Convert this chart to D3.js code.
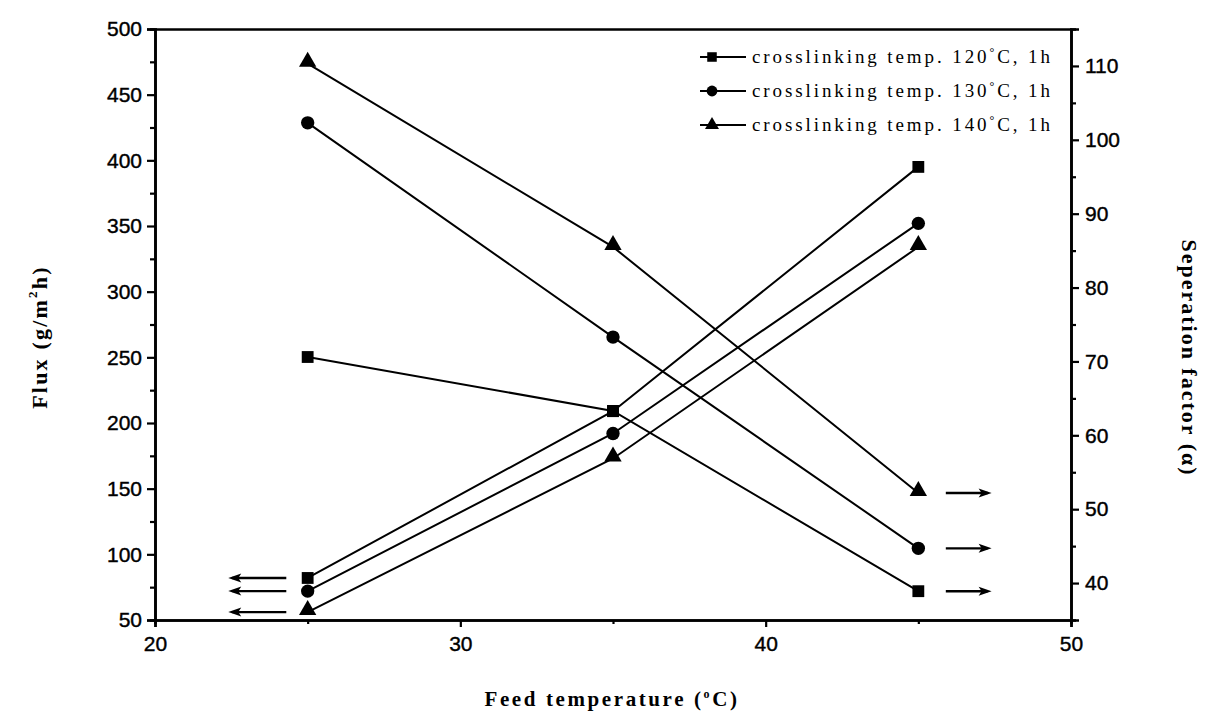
<!DOCTYPE html>
<html><head><meta charset="utf-8">
<script src="https://cdn.jsdelivr.net/npm/d3@7"></script>
<style>body{margin:0;background:#fff}</style>
</head><body>
<svg id="c" width="1209" height="720"></svg>
<script>
const feedTemps = [25, 35, 45];
const seriesNames = ["crosslinking temp. 120°C, 1h", "crosslinking temp. 130°C, 1h", "crosslinking temp. 140°C, 1h"];
const fluxValues = [[82, 209, 395], [72, 192, 352], [56, 173, 334]];
const sepValues = [[70.6, 63.3, 38.9], [102.3, 73.3, 44.7], [110.3, 85.5, 52.2]];
const xTicks = [20, 30, 40, 50];
const leftTicks = [50, 100, 150, 200, 250, 300, 350, 400, 450, 500];
const rightTicks = [40, 50, 60, 70, 80, 90, 100, 110];
const leftArrow = [24.3, 22.4];
const rightArrow = [45.9, 47.4];

const svg = d3.select("#c");
const L = 155, R = 1071, T = 29, B = 620;
const x = d3.scaleLinear().domain([20, 50]).range([L, R]);
const yL = d3.scaleLinear().domain([50, 500]).range([B, T]);
const yR = d3.scaleLinear().domain([35, 115]).range([B, T]);
const symbols = [d3.symbolSquare, d3.symbolCircle, d3.symbolTriangle];
const symSize = [140, 140, 130];

const tickFont = "'Liberation Sans', Arial, sans-serif";
// x axis
svg.append("g").attr("transform", `translate(0,${B})`)
  .call(d3.axisBottom(x).tickValues(xTicks).tickSize(7).tickPadding(9).tickFormat(d3.format("d")));
svg.append("g").attr("transform", `translate(0,${B})`)
  .call(d3.axisBottom(x).tickValues([25, 35, 45]).tickSize(4).tickFormat(""));
// left axis
svg.append("g").attr("transform", `translate(${L},0)`)
  .call(d3.axisLeft(yL).tickValues(leftTicks).tickSize(8).tickPadding(5));
svg.append("g").attr("transform", `translate(${L},0)`)
  .call(d3.axisLeft(yL).tickValues(d3.range(75, 500, 50)).tickSize(5).tickFormat(""));
// right axis
svg.append("g").attr("transform", `translate(${R},0)`)
  .call(d3.axisRight(yR).tickValues(rightTicks).tickSize(8).tickPadding(6));
svg.append("g").attr("transform", `translate(${R},0)`)
  .call(d3.axisRight(yR).tickValues(d3.range(45, 115, 10)).tickSize(5).tickFormat(""));
// top
svg.append("g").attr("transform", `translate(0,${T})`)
  .call(d3.axisTop(x).tickValues([]).tickSize(0));

svg.selectAll(".domain").attr("stroke-width", 2.6).attr("stroke", "#000");
svg.selectAll(".tick line").attr("stroke-width", 2.2).attr("stroke", "#000");
svg.selectAll(".tick text").attr("font-family", tickFont).attr("font-size", 21).attr("fill", "#000")
  .attr("stroke", "#000").attr("stroke-width", 0.4);

// lines
const lineL = d3.line().x((d, i) => x(feedTemps[i])).y(d => yL(d));
const lineR = d3.line().x((d, i) => x(feedTemps[i])).y(d => yR(d));
fluxValues.forEach(vals => {
  svg.append("path").attr("d", lineL(vals)).attr("fill", "none").attr("stroke", "#000").attr("stroke-width", 2);
});
sepValues.forEach(vals => {
  svg.append("path").attr("d", lineR(vals)).attr("fill", "none").attr("stroke", "#000").attr("stroke-width", 2);
});
fluxValues.forEach((vals, s) => {
  vals.forEach((v, i) => svg.append("path").attr("d", d3.symbol(symbols[s], symSize[s])())
    .attr("transform", `translate(${x(feedTemps[i])},${yL(v) - (s === 2 ? 2 : 0)})`).attr("fill", "#000"));
});
sepValues.forEach((vals, s) => {
  vals.forEach((v, i) => svg.append("path").attr("d", d3.symbol(symbols[s], symSize[s])())
    .attr("transform", `translate(${x(feedTemps[i])},${yR(v) - (s === 2 ? 2 : 0)})`).attr("fill", "#000"));
});

// arrows
function arrow(x1, x2, yy) {
  const dir = Math.sign(x2 - x1);
  const hl = 13, hw = 4.5;
  svg.append("line").attr("x1", x1).attr("x2", x2 - dir * 4).attr("y1", yy).attr("y2", yy)
    .attr("stroke", "#000").attr("stroke-width", 2.4);
  svg.append("path").attr("d", `M${x2},${yy} L${x2 - dir * hl},${yy - hw} L${x2 - dir * (hl - 3)},${yy} L${x2 - dir * hl},${yy + hw} Z`)
    .attr("fill", "#000");
}
fluxValues.forEach(vals => arrow(x(leftArrow[0]), x(leftArrow[1]), yL(vals[0])));
sepValues.forEach(vals => arrow(x(rightArrow[0]), x(rightArrow[1]), yR(vals[2])));

// legend
const serif = "'Liberation Serif', 'Times New Roman', serif";
seriesNames.forEach((name, s) => {
  const ly = 57 + s * 34;
  svg.append("line").attr("x1", 700).attr("x2", 746).attr("y1", ly).attr("y2", ly).attr("stroke", "#000").attr("stroke-width", 2);
  svg.append("path").attr("d", d3.symbol(symbols[s], symSize[s] * 0.65)()).attr("transform", `translate(712,${ly})`).attr("fill", "#000");
  const t = svg.append("text").attr("x", 752).attr("y", ly + 6).attr("font-family", serif).attr("font-size", 19)
    .attr("letter-spacing", 2.9).attr("fill", "#000");
  const parts = name.split("°");
  t.append("tspan").text(parts[0]);
  t.append("tspan").attr("dy", -7).attr("font-size", 12).text("°");
  t.append("tspan").attr("dy", 7).text(parts[1]);
});

// axis titles
const xt = svg.append("text").attr("x", 612).attr("y", 706).attr("text-anchor", "middle")
  .attr("font-family", serif).attr("font-weight", "bold").attr("font-size", 21).attr("letter-spacing", 2.6);
xt.append("tspan").text("Feed temperature (");
xt.append("tspan").attr("dy", -8).attr("font-size", 12).text("o");
xt.append("tspan").attr("dy", 8).text("C)");

const yt = svg.append("text").attr("transform", "translate(47,337) rotate(-90)").attr("text-anchor", "middle")
  .attr("font-family", serif).attr("font-weight", "bold").attr("font-size", 22).attr("letter-spacing", 2.2);
yt.append("tspan").text("Flux (g/m");
yt.append("tspan").attr("dy", -10).attr("font-size", 13).text("2");
yt.append("tspan").attr("dy", 10).text("h)");

svg.append("text").attr("transform", "translate(1182,358) rotate(90)").attr("text-anchor", "middle")
  .attr("font-family", serif).attr("font-weight", "bold").attr("font-size", 22).attr("letter-spacing", 2)
  .text("Seperation factor (α)");
</script>
</body></html>
